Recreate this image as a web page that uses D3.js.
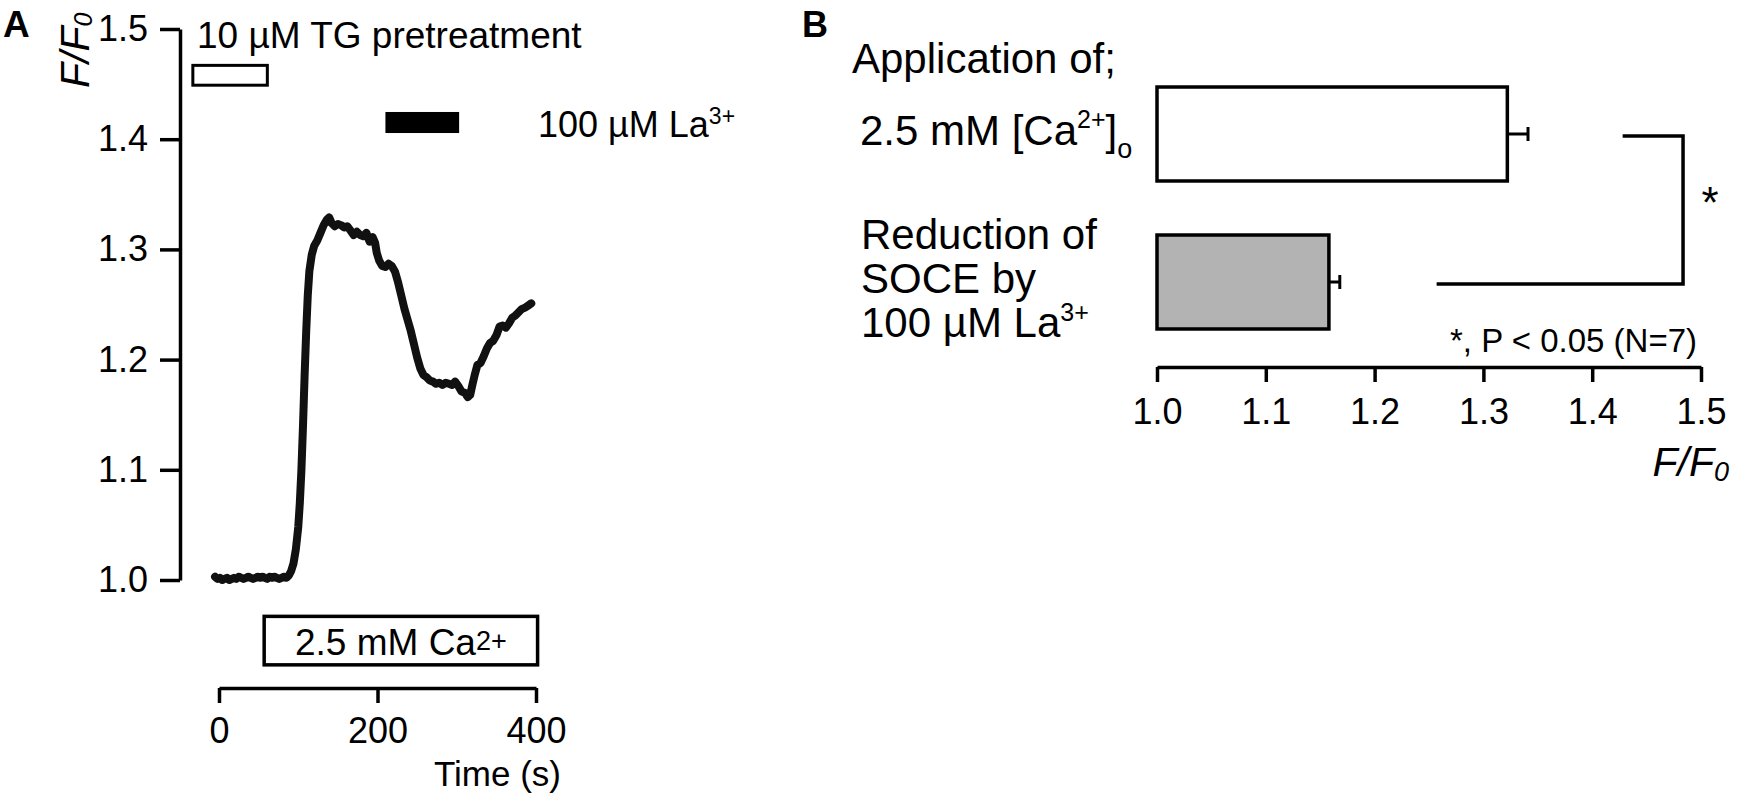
<!DOCTYPE html>
<html>
<head>
<meta charset="utf-8">
<script src="https://cdn.jsdelivr.net/npm/d3@7"></script>
<style>
  body { margin: 0; background: #fff; }
  svg text { font-family: "Liberation Sans", Arial, sans-serif; fill: #000; }
</style>
</head>
<body>
<svg id="chart" width="1745" height="798"></svg>
<script>
// panel A: F/F0 trace over time (s)
const timeS = [-5, -2, 1, 4, 7, 10, 13, 16, 19, 22, 25, 28, 31, 34, 37, 40, 43, 46, 49, 52, 55, 58, 61, 64, 67, 70, 73, 76, 79, 82, 85,
  88, 91, 94, 97, 100, 102, 104, 106, 108, 110, 112, 114, 117, 120, 124, 128, 132, 136, 139, 142, 146, 150, 154, 158, 162, 166, 170,
  174, 178, 182, 186, 190, 194, 197, 199, 202, 206, 210, 214, 218, 222, 226, 230, 234, 238, 242, 246, 250, 254, 258, 262, 266, 270,
  274, 278, 282, 286, 290, 294, 298, 302, 306, 310, 314, 317, 320, 323, 326, 330, 334, 338, 342, 346, 350, 354, 358, 362, 366, 370,
  374, 378, 382, 386, 390, 394];
const ratio = [1.003, 1.001, 1.002, 1.000, 1.001, 1.002, 1.000, 1.001, 1.002, 1.001, 1.003, 1.002, 1.001, 1.002, 1.003, 1.002, 1.001,
  1.002, 1.003, 1.002, 1.003, 1.002, 1.001, 1.003, 1.002, 1.003, 1.002, 1.001, 1.002, 1.003, 1.002,
  1.004, 1.008, 1.015, 1.028, 1.048, 1.070, 1.100, 1.140, 1.185, 1.225, 1.258, 1.280, 1.295, 1.303, 1.308, 1.315, 1.322, 1.327, 1.329,
  1.324, 1.321, 1.323, 1.322, 1.320, 1.321, 1.317, 1.313, 1.316, 1.313, 1.312, 1.315, 1.307, 1.311, 1.306, 1.297, 1.290, 1.285, 1.284,
  1.287, 1.285, 1.280, 1.270, 1.258, 1.246, 1.236, 1.226, 1.214, 1.202, 1.192, 1.186, 1.184, 1.181, 1.180, 1.178, 1.179, 1.177, 1.179,
  1.178, 1.177, 1.180, 1.176, 1.171, 1.170, 1.166, 1.168, 1.178, 1.187, 1.195, 1.197, 1.203, 1.210, 1.215, 1.217, 1.222, 1.230, 1.231,
  1.229, 1.233, 1.238, 1.240, 1.243, 1.246, 1.247, 1.249, 1.251];
const ticksRatioA = [1.0, 1.1, 1.2, 1.3, 1.4, 1.5];
const ticksTime = [0, 200, 400];

// protocol bars (time, s)
const tgSpan = [-33, 61];
const laSpan = [210, 303];
const caSpan = [57, 402];

// panel B: peak F/F0, mean and SEM
const barCats = ["Application", "Reduction"];
const barMeans = [1.322, 1.158];
const barSEM = [0.019, 0.010];
const ticksRatioB = [1.0, 1.1, 1.2, 1.3, 1.4, 1.5];

const svg = d3.select('#chart');
const fmt = d3.format('.1f');

// ---------- panel A ----------
const xA = d3.scaleLinear().domain([0, 400]).range([219, 536]);
const yA = d3.scaleLinear().domain([1.0, 1.5]).range([580, 29]);

svg.append('text').attr('x', 3).attr('y', 37)
  .style('font-size', '37px').style('font-weight', 'bold').text('A');

const yAxisA = svg.append('g').attr('transform', 'translate(180,0)')
  .call(d3.axisLeft(yA).tickValues(ticksRatioA).tickFormat(fmt).tickSize(20).tickSizeOuter(0).tickPadding(12));
const xAxisA = svg.append('g').attr('transform', 'translate(0,688)')
  .call(d3.axisBottom(xA).tickValues(ticksTime).tickSize(15).tickSizeOuter(0).tickPadding(14));

[yAxisA, xAxisA].forEach(function(g) {
  g.select('.domain').attr('stroke', '#000').attr('stroke-width', 3.5);
  g.selectAll('.tick line').attr('stroke', '#000').attr('stroke-width', 3.5);
  g.selectAll('.tick text').style('font-size', '36px').attr('fill', '#000');
});

const yLab = svg.append('text').attr('transform', 'translate(89,88) rotate(-90)')
  .style('font-size', '41px').style('font-style', 'italic');
yLab.append('tspan').text('F/F');
yLab.append('tspan').attr('dy', 3).style('font-size', '25px').text('0');

svg.append('text').attr('x', 434).attr('y', 786).style('font-size', '35px').text('Time (s)');

// protocol markers
svg.append('rect')
  .attr('x', xA(tgSpan[0])).attr('width', xA(tgSpan[1]) - xA(tgSpan[0]))
  .attr('y', yA(1.467)).attr('height', yA(1.449) - yA(1.467))
  .attr('fill', '#fff').attr('stroke', '#000').attr('stroke-width', 3);
svg.append('text').attr('x', 197).attr('y', 48).style('font-size', '37px').text('10 µM TG pretreatment');

svg.append('rect')
  .attr('x', xA(laSpan[0])).attr('width', xA(laSpan[1]) - xA(laSpan[0]))
  .attr('y', yA(1.4247)).attr('height', yA(1.4056) - yA(1.4247))
  .attr('fill', '#000');
const laText = svg.append('text').attr('x', 538).attr('y', 137).style('font-size', '36px');
laText.append('tspan').text('100 µM La');
laText.append('tspan').attr('dy', -13).style('font-size', '23px').text('3+');

svg.append('rect')
  .attr('x', xA(caSpan[0])).attr('width', xA(caSpan[1]) - xA(caSpan[0]))
  .attr('y', yA(0.967)).attr('height', yA(0.923) - yA(0.967))
  .attr('fill', '#fff').attr('stroke', '#000').attr('stroke-width', 3.5);
const caText = svg.append('text').attr('x', xA((caSpan[0] + caSpan[1]) / 2)).attr('y', 655)
  .attr('text-anchor', 'middle').style('font-size', '37px');
caText.append('tspan').text('2.5 mM Ca');
caText.append('tspan').attr('dy', -5).style('font-size', '27px').text('2+');

// trace
const trace = timeS.map((t, i) => ({ t: t, f: ratio[i] }));
svg.append('path').datum(trace)
  .attr('fill', 'none').attr('stroke', '#111').attr('stroke-width', 8)
  .attr('stroke-linejoin', 'round').attr('stroke-linecap', 'round')
  .attr('d', d3.line().x(d => xA(d.t)).y(d => yA(d.f)));

// ---------- panel B ----------
const xB = d3.scaleLinear().domain([1.0, 1.5]).range([1157, 1701]);
const yB = d3.scaleBand().domain(barCats).range([60, 356]).paddingInner(0.365).paddingOuter(0.1825);
const barFill = ['#fff', '#b3b3b3'];

svg.append('text').attr('x', 802).attr('y', 37)
  .style('font-size', '36px').style('font-weight', 'bold').text('B');

const xAxisB = svg.append('g').attr('transform', 'translate(0,367)')
  .call(d3.axisBottom(xB).tickValues(ticksRatioB).tickFormat(fmt).tickSize(15).tickSizeOuter(0).tickPadding(16));
xAxisB.select('.domain').attr('stroke', '#000').attr('stroke-width', 3.5);
xAxisB.selectAll('.tick line').attr('stroke', '#000').attr('stroke-width', 3.5);
xAxisB.selectAll('.tick text').style('font-size', '36px').attr('fill', '#000');

const xLabB = svg.append('text').attr('x', 1729).attr('y', 476).attr('text-anchor', 'end')
  .style('font-size', '41px').style('font-style', 'italic');
xLabB.append('tspan').text('F/F');
xLabB.append('tspan').attr('dy', 5).style('font-size', '27px').text('0');

svg.selectAll('.bar').data(barCats).join('rect')
  .attr('class', 'bar')
  .attr('x', xB(1.0)).attr('y', d => yB(d))
  .attr('width', (d, i) => xB(barMeans[i]) - xB(1.0))
  .attr('height', yB.bandwidth())
  .attr('fill', (d, i) => barFill[i]).attr('stroke', '#000').attr('stroke-width', 3.5);

const err = svg.selectAll('.err').data(barCats).join('g').attr('class', 'err')
  .attr('stroke', '#000').attr('stroke-width', 3);
err.append('line')
  .attr('x1', (d, i) => xB(barMeans[i])).attr('x2', (d, i) => xB(barMeans[i] + barSEM[i]))
  .attr('y1', d => yB(d) + yB.bandwidth() / 2).attr('y2', d => yB(d) + yB.bandwidth() / 2);
err.append('line')
  .attr('x1', (d, i) => xB(barMeans[i] + barSEM[i])).attr('x2', (d, i) => xB(barMeans[i] + barSEM[i]))
  .attr('y1', d => yB(d) + yB.bandwidth() / 2 - 7).attr('y2', d => yB(d) + yB.bandwidth() / 2 + 7);

// significance bracket
const yTop = yB(barCats[0]) + yB.bandwidth() / 2 + 2;
const yBot = yB(barCats[1]) + yB.bandwidth() / 2 + 2;
svg.append('path')
  .attr('d', `M${xB(1.428)},${yTop}H${xB(1.4835)}V${yBot}H${xB(1.257)}`)
  .attr('fill', 'none').attr('stroke', '#000').attr('stroke-width', 3.5);
svg.append('text').attr('x', 1710).attr('y', 218).attr('text-anchor', 'middle')
  .style('font-size', '44px').text('*');
svg.append('text').attr('x', 1450).attr('y', 352).style('font-size', '33px').text('*, P < 0.05 (N=7)');

// category labels
svg.append('text').attr('x', 852).attr('y', 73).style('font-size', '42px').text('Application of;');
const catA = svg.append('text').attr('x', 860).attr('y', 145).style('font-size', '42px');
catA.append('tspan').text('2.5 mM [Ca');
catA.append('tspan').attr('dy', -17).style('font-size', '25px').text('2+');
catA.append('tspan').attr('dy', 17).text(']');
catA.append('tspan').attr('dy', 13).style('font-size', '27px').text('o');

const catB = ['Reduction of', 'SOCE by'];
svg.selectAll('.catb').data(catB).join('text').attr('class', 'catb')
  .attr('x', 861).attr('y', (d, i) => 249 + i * 44).style('font-size', '42px').text(d => d);
const catB3 = svg.append('text').attr('x', 861).attr('y', 337).style('font-size', '42px');
catB3.append('tspan').text('100 µM La');
catB3.append('tspan').attr('dy', -16).style('font-size', '25px').text('3+');
</script>
</body>
</html>
